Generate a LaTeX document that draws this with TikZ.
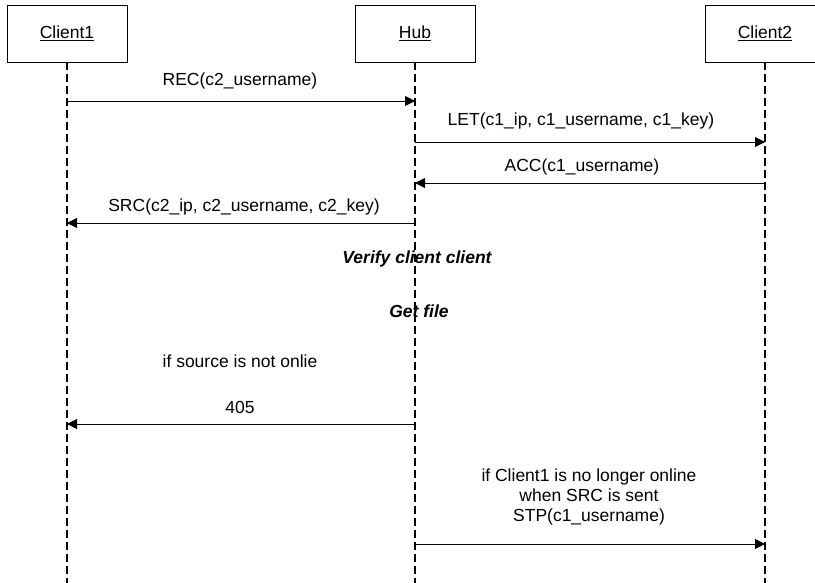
\documentclass[tikz,border=0pt]{standalone}
\usepackage{fontspec}
\setmainfont{Liberation Sans}
\usetikzlibrary{arrows.meta}
\begin{document}
\begin{tikzpicture}[x=1pt,y=-1pt,
  actor/.style={draw=black,line width=0.8pt,fill=white,minimum width=120pt,minimum height=57pt,inner sep=0pt,font=\fontsize{17.5}{20}\selectfont},
  lifeline/.style={line width=1.6pt,dash pattern=on 8pt off 4pt},
  msg/.style={line width=0.8pt,-{Triangle[length=10pt,width=10pt]}},
  lbl/.style={font=\fontsize{17.5}{20}\selectfont,inner sep=0pt,align=center},
  note/.style={font=\fontsize{17.5}{20}\selectfont\bfseries\itshape,inner sep=0pt}]
\useasboundingbox (0,0) rectangle (815,583);
\clip (0,0) rectangle (815,583);
% lifelines
\coordinate (c1x) at (67,62);
\coordinate (hubx) at (415,62);
\coordinate (c2x) at (765,62);
\coordinate (bot) at (0,583);
\draw[lifeline] (c1x) -- (c1x |- bot);
\draw[lifeline] (hubx) -- (hubx |- bot);
\draw[lifeline] (c2x) -- (c2x |- bot);
% actors
\node[actor] (c1) at (67,33.5) {\underline{Client1}};
\node[actor] (hub) at (415,33.5) {\underline{Hub}};
\node[actor] (c2) at (765,33.5) {\underline{Client2}};
% message levels
\coordinate (y1) at (0,101);
\coordinate (y2) at (0,142);
\coordinate (y3) at (0,183);
\coordinate (y4) at (0,223);
\coordinate (y5) at (0,424);
\coordinate (y6) at (0,544);
% messages
\draw[msg] (c1 |- y1) -- (hub |- y1);
\node[lbl] (l1) at (240,81) {REC(c2\_username)};
\draw[msg] (hub |- y2) -- (c2 |- y2);
\node[lbl] (l2) at (581,121) {LET(c1\_ip, c1\_username, c1\_key)};
\draw[msg] (c2 |- y3) -- (hub |- y3);
\node[lbl] (l3) at (582,167) {ACC(c1\_username)};
\draw[msg] (hub |- y4) -- (c1 |- y4);
\node[lbl] (l4) at (244,207) {SRC(c2\_ip, c2\_username, c2\_key)};
\node[note] (n1) at (417,259) {Verify client client};
\node[note] (n2) at (419,311) {Get file};
\node[lbl] (l5) at (240,361) {if source is not onlie};
\node[lbl] (l6) at (240,407) {405};
\draw[msg] (hub |- y5) -- (c1 |- y5);
\node[lbl] (l7) at (589,497) {if Client1 is no longer online\\when SRC is sent\\STP(c1\_username)};
\draw[msg] (hub |- y6) -- (c2 |- y6);
\end{tikzpicture}
\end{document}
